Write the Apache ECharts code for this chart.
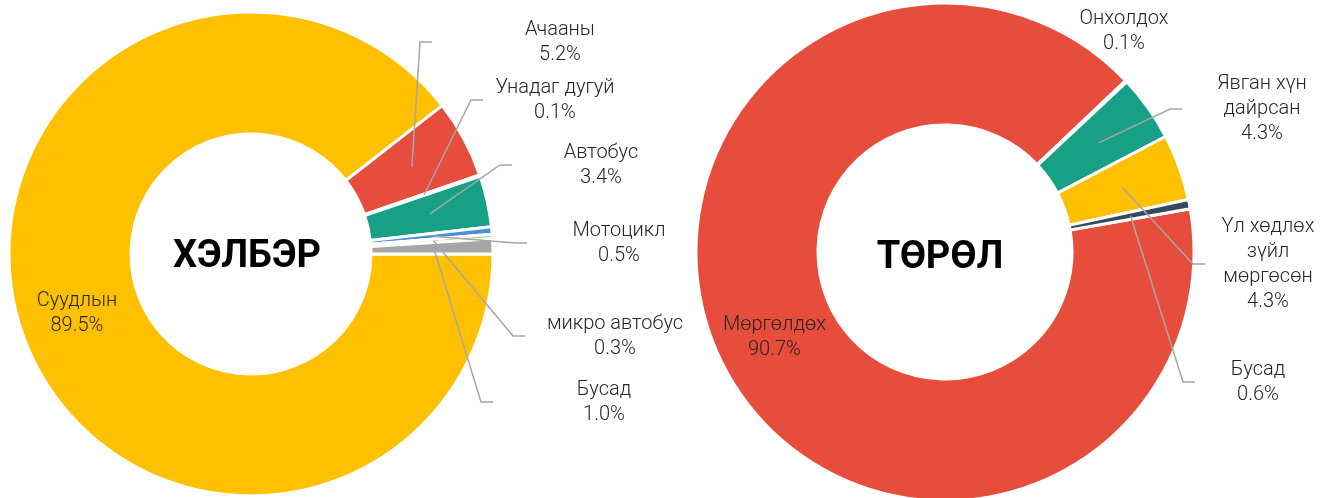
<!DOCTYPE html>
<html>
<head>
<meta charset="utf-8">
<title>ХЭЛБЭР / ТӨРӨЛ</title>
<script src="https://cdn.jsdelivr.net/npm/echarts@6/dist/echarts.min.js"></script>
<style>
    html, body { margin: 0; padding: 0; background: #fff; }
    #chart { width: 1336px; height: 498px; }
</style>
</head>
<body>
<div id="chart"></div>
<script>
// ХЭЛБЭР - тээврийн хэрэгслийн хэлбэр
const formNames = ['Суудлын', 'Ачааны', 'Унадаг дугуй', 'Автобус', 'Мотоцикл', 'микро автобус', 'Бусад'];
const formValues = [89.5, 5.2, 0.1, 3.4, 0.5, 0.3, 1.0];

// ТӨРӨЛ - ослын төрөл
const typeNames = ['Мөргөлдөх', 'Онхолдох', 'Явган хүн\nдайрсан', 'Үл хөдлөх\nзүйл\nмөргөсөн', 'Бусад'];
const typeValues = [90.7, 0.1, 4.3, 4.3, 0.6];

const formColors = ['#FFC000', '#E64D3D', '#9B59B6', '#17A085', '#4A90D9', '#A9D18E', '#A6A6A6'];
const typeColors = ['#E64D3D', '#7F7F7F', '#17A085', '#FFC000', '#34495E'];

// шошгоны байрлал: [төвийн x, төвийн y, зангилаа шугамын төгсгөлийн x]
const formLabelAt = [null, [560, 42, 432], [555, 100, 483], [601, 165, 512], [619, 243, 527], [615, 336, 525], [604, 402, 493]];
const typeLabelAt = [null, [1124, 31, null], [1262, 109, 1182], [1268, 264, 1205], [1258, 382, 1195]];

const textStyle = {
    color: '#262626',
    fontFamily: 'Roboto',
    fontWeight: 300,
    fontSize: 20,
    lineHeight: 25
};

function labelText(p) {
    return p.name + '\n' + p.value.toFixed(1) + '%';
}

// хэсгийн дунд өнцгийн цэг (цагийн зүүний дагуу зурсан)
function midPoint(values, i, center, r, startAngle) {
    const total = values.reduce((a, b) => a + b, 0);
    let before = 0;
    for (let k = 0; k < i; k++) before += values[k];
    const deg = startAngle - (before + values[i] / 2) / total * 360;
    const rad = deg * Math.PI / 180;
    return [center[0] + r * Math.cos(rad), center[1] - r * Math.sin(rad)];
}

// үндсэн цагираг, зөвхөн том хэсгийн шошго дотор нь
function ring(names, values, colors, center, r0, r1, startAngle) {
    return {
        type: 'pie',
        z: 2,
        center: center,
        radius: [r0, r1],
        startAngle: startAngle,
        clockwise: true,
        silent: true,
        avoidLabelOverlap: false,
        itemStyle: {borderColor: '#fff', borderWidth: 3},
        label: Object.assign({show: true, position: 'inside', formatter: labelText}, textStyle),
        labelLine: {show: false},
        data: names.map((n, i) => ({
            name: n,
            value: values[i],
            itemStyle: {color: colors[i]},
            label: {show: i === 0}
        }))
    };
}

// тунгалаг давхарга: шошго ба шугамууд, шугам цагирагийн дундаас эхэлнэ
function labelRing(names, values, center, r, startAngle, spots) {
    return {
        type: 'pie',
        z: 5,
        center: center,
        radius: [0, r],
        startAngle: startAngle,
        clockwise: true,
        silent: true,
        avoidLabelOverlap: false,
        itemStyle: {color: 'rgba(0,0,0,0)', borderWidth: 0},
        label: Object.assign({show: true, position: 'outside', formatter: labelText}, textStyle),
        labelLine: {show: true, length: 10, length2: 10, lineStyle: {color: '#A6A6A6', width: 1.5}},
        labelLayout: function (p) {
            const s = spots[p.dataIndex];
            if (!s) return {};
            const out = {x: s[0], y: s[1], align: 'center', verticalAlign: 'middle'};
            if (s[2] != null) {
                out.labelLinePoints = [
                    midPoint(values, p.dataIndex, center, r, startAngle),
                    [s[2] - 12, s[1]],
                    [s[2], s[1]]
                ];
            }
            return out;
        },
        data: names.map((n, i) => ({
            name: n,
            value: values[i],
            label: {show: i > 0},
            labelLine: {show: i > 0 && spots[i] != null && spots[i][2] != null}
        }))
    };
}

const chart = echarts.init(document.getElementById('chart'), null, {renderer: 'canvas'});

const option = {
    animation: false,
    backgroundColor: '#fff',
    graphic: [
        {
            type: 'text', x: 247, y: 257, silent: true, z: 10,
            style: {text: 'ХЭЛБЭР', font: 'bold 38px Roboto', fill: '#000', align: 'center', verticalAlign: 'middle'}
        },
        {
            type: 'text', x: 940, y: 258, silent: true, z: 10,
            style: {text: 'ТӨРӨЛ', font: 'bold 38px Roboto', fill: '#000', align: 'center', verticalAlign: 'middle'}
        }
    ],
    series: [
        ring(formNames, formValues, formColors, [251, 254], 120, 242, 0),
        ring(typeNames, typeValues, typeColors, [945, 252], 127, 249, 10),
        labelRing(formNames, formValues, [251, 254], 183, 0, formLabelAt),
        labelRing(typeNames, typeValues, [945, 252], 189, 10, typeLabelAt)
    ]
};

chart.setOption(option);
</script>
</body>
</html>
